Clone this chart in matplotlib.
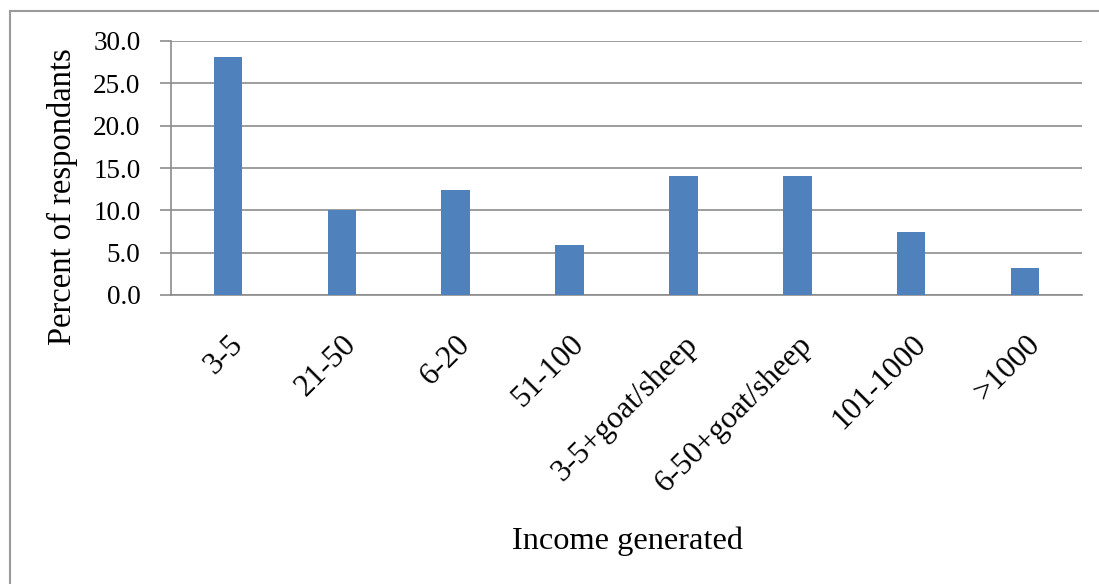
import matplotlib
matplotlib.use("Agg")
import matplotlib.pyplot as plt
from matplotlib.lines import Line2D

# Share of respondents by income generated
categories = ["3-5", "21-50", "6-20", "51-100", "3-5+goat/sheep",
              "6-50+goat/sheep", "101-1000", ">1000"]
percent = [28.1, 10.0, 12.4, 5.9, 14.1, 14.1, 7.5, 3.2]
y_ticks = [0, 5, 10, 15, 20, 25, 30]

W, H = 1099, 584
fig = plt.figure(figsize=(W / 100, H / 100), dpi=100)
fig.patch.set_facecolor("white")

serif = ["Liberation Serif", "DejaVu Serif"]
grid_gray = "#8c8c8c"

ax = fig.add_axes([171 / W, (H - 295) / H, (1082 - 171) / W, (295 - 41) / H])
x = range(len(categories))
ax.bar(x, percent, width=0.25, color="#4f81bd", zorder=3)

ax.set_xlim(-0.5, len(categories) - 0.5)
ax.set_ylim(0, 30)
ax.set_yticks(y_ticks)
ax.set_yticklabels([f"{v:.1f}" for v in y_ticks], fontfamily=serif, fontsize=19.5)
ax.yaxis.grid(True, color=grid_gray, linewidth=1.2, zorder=0)

ax.set_xticks(list(x))
ax.set_xticklabels(categories, rotation=45, ha="right", rotation_mode="anchor",
                   fontfamily=serif, fontsize=22.5)
ax.tick_params(axis="x", length=0, pad=25)
ax.tick_params(axis="y", length=8, width=1.2, color=grid_gray, pad=14)

for side in ["top", "right"]:
    ax.spines[side].set_visible(False)
for side in ["left", "bottom"]:
    ax.spines[side].set_color(grid_gray)
    ax.spines[side].set_linewidth(1.2)

fig.text(62 / W, 1 - 197 / H, "Percent of respondants", rotation=90,
         ha="center", va="center", fontfamily=serif, fontsize=23.5)
fig.text(627 / W, 1 - 541 / H, "Income generated", ha="center", va="center",
         fontfamily=serif, fontsize=23.3)

# Outer chart frame (left and top edges)
fig.add_artist(Line2D([9.5 / W, 9.5 / W], [0, 1 - 11 / H], transform=fig.transFigure,
                      color="#9a9a9a", linewidth=1.5))
fig.add_artist(Line2D([9.5 / W, 1], [1 - 11 / H, 1 - 11 / H], transform=fig.transFigure,
                      color="#9a9a9a", linewidth=1.5))

fig.savefig("out.png", dpi=100, facecolor="white")
